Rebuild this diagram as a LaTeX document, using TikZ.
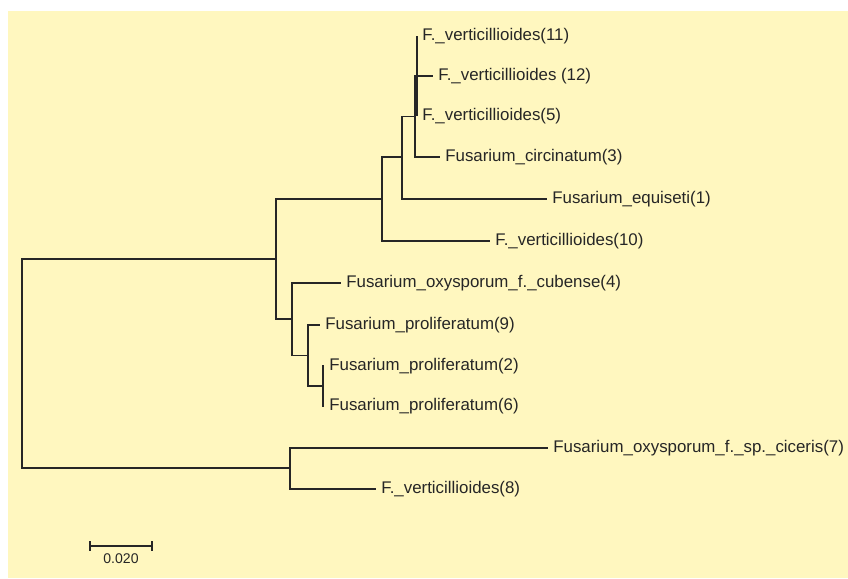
\documentclass[tikz,border=0pt]{standalone}
\usepackage{fontspec}
\setmainfont{Liberation Sans}
\usetikzlibrary{positioning}
\definecolor{treeink}{HTML}{262626}
\definecolor{treepanel}{HTML}{FFF7BF}
\tikzset{
  treebranch/.style={draw=treeink, line width=.75pt},
  leaflabel/.style={font=\fontsize{9.6}{11}\selectfont, text=treeink, anchor=west,
    inner xsep=.1cm, inner ysep=1pt},
  scalelabel/.style={font=\fontsize{8}{9.5}\selectfont, text=treeink, inner sep=1pt}
}
\begin{document}
\begin{tikzpicture}[x=.02cm, y=-.02cm]
  \useasboundingbox (0,0) rectangle (848,578);
  \fill[treepanel] (8,11) rectangle (848,578);

  % internal nodes of the tree
  \coordinate (nroot)   at (22,363.5);
  \coordinate (nupper)  at (276,259);
  \coordinate (nverti)  at (382,199);
  \coordinate (nequi)   at (402,157);
  \coordinate (ncirc)   at (415,116.5);
  \coordinate (nvertc)  at (417,76);
  \coordinate (nprol)   at (292,319);
  \coordinate (nprolb)  at (308,355.5);
  \coordinate (nprolc)  at (323,386);
  \coordinate (nlower)  at (290,468);

  % leaf tips and their labels
  \foreach \id/\x/\y/\lab in {
      11/417/36/{F.\_verticillioides(11)},
      12/433/76/{F.\_verticillioides (12)},
      5/417/116/{F.\_verticillioides(5)},
      3/440/157/{Fusarium\_circinatum(3)},
      1/547/199/{Fusarium\_equiseti(1)},
      10/490/241/{F.\_verticillioides(10)},
      4/341/283/{Fusarium\_oxysporum\_f.\_cubense(4)},
      9/320/325/{Fusarium\_proliferatum(9)},
      2/324/366/{Fusarium\_proliferatum(2)},
      6/324/406/{Fusarium\_proliferatum(6)},
      7/548/448/{Fusarium\_oxysporum\_f.\_sp.\_ciceris(7)},
      8/376/489/{F.\_verticillioides(8)}} {
    \coordinate (t\id) at (\x,\y);
    \node[leaflabel] (l\id) at (t\id) {\lab};
  }

  % branches
  \foreach \p/\c in {nroot/nupper, nroot/nlower, nupper/nverti, nupper/nprol,
      nverti/nequi, nverti/t10, nequi/ncirc, nequi/t1, ncirc/nvertc, ncirc/t3,
      nvertc/t11, nvertc/t12, nvertc/t5, nprol/t4, nprol/nprolb,
      nprolb/t9, nprolb/nprolc, nprolc/t2, nprolc/t6, nlower/t7, nlower/t8}
    \draw[treebranch] (\p) |- (\c);

  % scale bar
  \coordinate (sbleft) at (90,546);
  \coordinate (sbright) at (152,546);
  \draw[treebranch] (sbleft) -- (sbright);
  \draw[treebranch] ([yshift=.1cm]sbleft) -- ([yshift=-.1cm]sbleft);
  \draw[treebranch] ([yshift=.1cm]sbright) -- ([yshift=-.1cm]sbright);
  \node[scalelabel] (sblabel) at (121,559) {0.020};
\end{tikzpicture}
\end{document}
